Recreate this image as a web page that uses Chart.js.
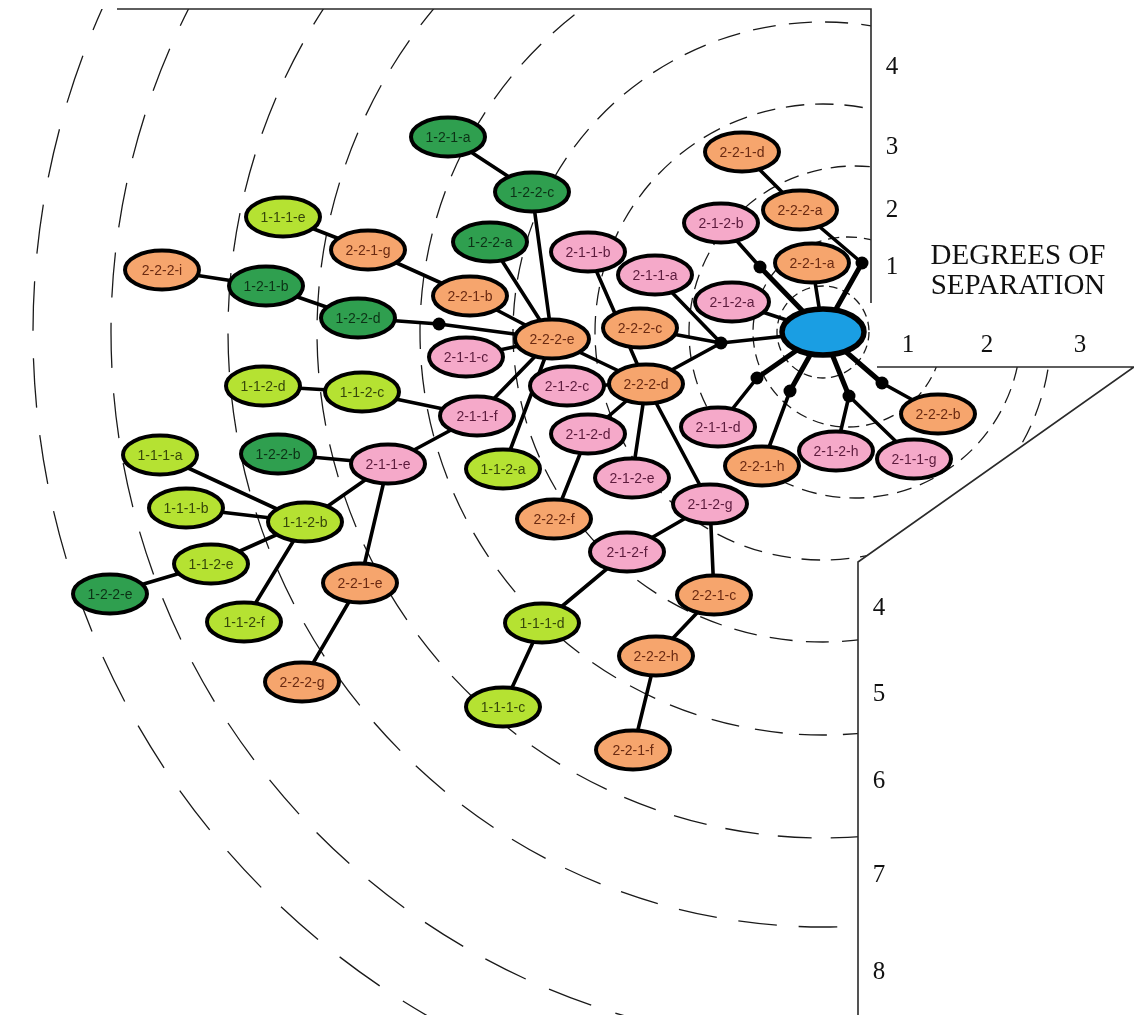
<!DOCTYPE html>
<html>
<head>
<meta charset="utf-8">
<title>Degrees of separation</title>
<script src="https://cdn.jsdelivr.net/npm/chart.js@4.4.1/dist/chart.umd.min.js"></script>
<style>
  html, body { margin: 0; padding: 0; background: #fff; }
  #wrap { width: 1134px; height: 1015px; }
</style>
</head>
<body>
<div id="wrap"><canvas id="net" width="1134" height="1015"></canvas></div>
<script>
// ##### Data #####

// people in the network (C = the centre person)
const nodeNames = [
    'C', '2-2-1-d', '2-2-2-a', '2-1-2-b', '2-2-1-a', '2-1-1-a', '2-1-2-a', '2-2-2-c',
    '2-1-1-b', '2-2-2-e', '1-2-2-c', '1-2-1-a', '1-2-2-a', '2-2-1-b', '2-2-1-g', '1-1-1-e',
    '2-2-2-i', '1-2-1-b', '1-2-2-d', '2-1-1-c', '2-2-2-d', '2-1-2-c', '1-1-2-d', '1-1-2-c',
    '2-1-1-f', '1-2-2-b', '2-1-1-e', '1-1-1-a', '1-1-1-b', '1-1-2-b', '1-1-2-e', '1-2-2-e',
    '1-1-2-f', '2-2-1-e', '2-2-2-g', '1-1-2-a', '2-1-2-d', '2-1-2-e', '2-2-2-f', '2-1-2-g',
    '2-1-2-f', '2-2-1-c', '1-1-1-d', '2-2-2-h', '1-1-1-c', '2-2-1-f', '2-1-1-d', '2-2-1-h',
    '2-1-2-h', '2-1-1-g', '2-2-2-b',
]
const nodeX = [
    823, 742, 800, 721, 812, 655, 732, 640,
    588, 552, 532, 448, 490, 470, 368, 283,
    162, 266, 358, 466, 646, 567, 263, 362,
    477, 278, 388, 160, 186, 305, 211, 110,
    244, 360, 302, 503, 588, 632, 554, 710,
    627, 714, 542, 656, 503, 633, 718, 762,
    836, 914, 938,
]
const nodeY = [
    332, 152, 210, 223, 263, 275, 302, 328,
    252, 339, 192, 137, 242, 296, 250, 217,
    270, 286, 318, 357, 384, 386, 386, 392,
    416, 454, 464, 455, 508, 522, 564, 594,
    622, 583, 682, 469, 434, 478, 519, 504,
    552, 595, 623, 656, 707, 750, 427, 466,
    451, 459, 414,
]
// c = centre, dg = dark green, lg = light green, or = orange, pk = pink
const nodeGroup = [
    'c', 'or', 'or', 'pk', 'or', 'pk', 'pk', 'or',
    'pk', 'or', 'dg', 'dg', 'dg', 'or', 'or', 'lg',
    'or', 'dg', 'dg', 'pk', 'or', 'pk', 'lg', 'lg',
    'pk', 'dg', 'pk', 'lg', 'lg', 'lg', 'lg', 'dg',
    'lg', 'or', 'or', 'lg', 'pk', 'pk', 'or', 'pk',
    'pk', 'or', 'lg', 'or', 'lg', 'or', 'pk', 'or',
    'pk', 'pk', 'or',
]

// small black joints on the links
const jointNames = ['J0', 'J1', 'J2', 'J3', 'J4', 'J5', 'J6', 'J7']
const jointX = [721, 439, 760, 862, 757, 790, 849, 882]
const jointY = [343, 324, 267, 263, 378, 391, 396, 383]

const links = [
    ['2-2-1-d', '2-2-2-a'], ['2-2-2-a', 'J3'], ['J3', 'C'],
    ['2-1-2-b', 'J2'], ['J2', 'C'],
    ['2-2-1-a', 'C'], ['2-1-2-a', 'C'],
    ['2-1-1-a', 'J0'], ['2-2-2-c', 'J0'], ['2-2-2-d', 'J0'], ['J0', 'C'],
    ['C', 'J4'], ['J4', '2-1-1-d'],
    ['C', 'J5'], ['J5', '2-2-1-h'],
    ['C', 'J6'], ['J6', '2-1-2-h'], ['J6', '2-1-1-g'],
    ['C', 'J7'], ['J7', '2-2-2-b'],
    ['2-1-1-b', '2-2-2-d'], ['2-2-2-e', '2-2-2-d'], ['2-1-2-c', '2-2-2-d'],
    ['2-2-2-d', '2-1-2-d'], ['2-2-2-d', '2-1-2-e'], ['2-2-2-d', '2-1-2-g'],
    ['1-2-1-a', '1-2-2-c'], ['1-2-2-c', '2-2-2-e'], ['1-2-2-a', '2-2-2-e'],
    ['2-2-1-b', '2-2-2-e'], ['1-1-1-e', '2-2-1-g'], ['2-2-1-g', '2-2-1-b'],
    ['2-2-2-i', '1-2-1-b'], ['1-2-1-b', '1-2-2-d'], ['1-2-2-d', 'J1'], ['J1', '2-2-2-e'],
    ['2-1-1-c', '2-2-2-e'], ['2-1-1-f', '2-2-2-e'], ['1-1-2-a', '2-2-2-e'],
    ['1-1-2-d', '1-1-2-c'], ['1-1-2-c', '2-1-1-f'], ['2-1-1-f', '2-1-1-e'],
    ['1-2-2-b', '2-1-1-e'], ['2-1-1-e', '1-1-2-b'], ['2-1-1-e', '2-2-1-e'],
    ['2-2-1-e', '2-2-2-g'], ['1-1-1-a', '1-1-2-b'], ['1-1-1-b', '1-1-2-b'],
    ['1-1-2-b', '1-1-2-e'], ['1-1-2-e', '1-2-2-e'], ['1-1-2-b', '1-1-2-f'],
    ['2-1-2-d', '2-2-2-f'], ['2-1-2-g', '2-1-2-f'], ['2-1-2-f', '1-1-1-d'],
    ['1-1-1-d', '1-1-1-c'], ['2-1-2-g', '2-2-1-c'], ['2-2-1-c', '2-2-2-h'],
    ['2-2-2-h', '2-2-1-f'],
]

// ring boundaries (distance from the centre person)
const ringRadii = [46, 95, 166, 228, 310, 403, 506, 595, 712, 790]
const ringShift = [0, 25, 32, 0, 0, 0, 0, 0, 0, 0]

// degree labels on the three axis pieces
const topTicks = ['4', '3', '2', '1']
const rightTicks = ['1', '2', '3']
const bottomTicks = ['4', '5', '6', '7', '8']
const titleLines = ['DEGREES OF', 'SEPARATION']

// ##### Helpers #####

function pointOf(name) {
    let i = nodeNames.indexOf(name)
    if (i >= 0) return { x: nodeX[i], y: nodeY[i] }
    i = jointNames.indexOf(name)
    return { x: jointX[i], y: jointY[i] }
}

const groupStyle = {
    c: { fill: '#1a9ee3', text: '#000', rx: 41, ry: 23, lw: 5.5 },
    dg: { fill: '#2f9f4f', text: '#0c3216', rx: 37, ry: 19.5, lw: 4 },
    lg: { fill: '#b5e232', text: '#36460a', rx: 37, ry: 19.5, lw: 4 },
    or: { fill: '#f6a56d', text: '#6a2a12', rx: 37, ry: 19.5, lw: 4 },
    pk: { fill: '#f5a9c9', text: '#5c1b3d', rx: 37, ry: 19.5, lw: 4 },
}

const heavy = ['C', 'J2', 'J3', 'J4', 'J5', 'J6', 'J7']

// ##### Plugins #####

const ringsAndAxes = {
    id: 'ringsAndAxes',
    beforeDatasetsDraw(chart) {
        const { ctx } = chart
        const sx = chart.scales.x
        const sy = chart.scales.y
        const px = (v) => sx.getPixelForValue(v)
        const py = (v) => sy.getPixelForValue(v)

        // dashed rings, kept out of the label panels
        ctx.save()
        ctx.beginPath()
        ctx.moveTo(px(0), py(9))
        ctx.lineTo(px(871), py(9))
        ctx.lineTo(px(871), py(367))
        ctx.lineTo(px(1134), py(367))
        ctx.lineTo(px(858), py(562))
        ctx.lineTo(px(858), py(1015))
        ctx.lineTo(px(0), py(1015))
        ctx.closePath()
        ctx.clip()
        ctx.strokeStyle = '#1a1a1a'
        ctx.lineWidth = 1.3
        ringRadii.forEach((r, i) => {
            const cx = px(nodeX[0] + ringShift[i])
            const cy = py(nodeY[0])
            const rp = Math.abs(px(r) - px(0))
            ctx.setLineDash([6 + rp * 0.055, 4 + rp * 0.03])
            ctx.lineDashOffset = i * 7
            ctx.beginPath()
            ctx.arc(cx, cy, rp, 0, Math.PI * 2)
            ctx.stroke()
        })
        ctx.restore()

        // axis frame
        ctx.save()
        ctx.strokeStyle = '#2a2a2a'
        ctx.lineWidth = 1.6
        ctx.beginPath()
        ctx.moveTo(px(117), py(9))
        ctx.lineTo(px(871), py(9))
        ctx.lineTo(px(871), py(303))
        ctx.moveTo(px(877), py(367))
        ctx.lineTo(px(1134), py(367))
        ctx.lineTo(px(858), py(562))
        ctx.lineTo(px(858), py(1015))
        ctx.stroke()

        // degree numbers
        ctx.fillStyle = '#111'
        ctx.textAlign = 'center'
        ctx.textBaseline = 'middle'
        ctx.font = '25px "Liberation Serif", "Times New Roman", serif'
        const topY = [67, 147, 210, 267]
        topTicks.forEach((t, i) => ctx.fillText(t, px(892), py(topY[i])))
        const rightX = [908, 987, 1080]
        rightTicks.forEach((t, i) => ctx.fillText(t, px(rightX[i]), py(345)))
        const bottomY = [608, 694, 781, 875, 972]
        bottomTicks.forEach((t, i) => ctx.fillText(t, px(879), py(bottomY[i])))

        ctx.font = '29px "Liberation Serif", "Times New Roman", serif'
        ctx.fillText(titleLines[0], px(1018), py(256))
        ctx.fillText(titleLines[1], px(1018), py(286))
        ctx.restore()
    },
}

const ellipseNodes = {
    id: 'ellipseNodes',
    afterDatasetsDraw(chart) {
        const { ctx } = chart
        const meta = chart.getDatasetMeta(1)
        ctx.save()
        meta.data.forEach((el, i) => {
            const st = groupStyle[nodeGroup[i]]
            ctx.beginPath()
            ctx.ellipse(el.x, el.y, st.rx, st.ry, 0, 0, Math.PI * 2)
            ctx.fillStyle = st.fill
            ctx.fill()
            ctx.lineWidth = st.lw
            ctx.strokeStyle = '#000'
            ctx.stroke()
            if (nodeNames[i] !== 'C') {
                ctx.fillStyle = st.text
                ctx.font = '14px "Liberation Sans", Arial, sans-serif'
                ctx.textAlign = 'center'
                ctx.textBaseline = 'middle'
                ctx.fillText(nodeNames[i], el.x, el.y + 1)
            }
        })
        ctx.restore()
    },
}

// ##### Chart #####

const datasets = [
    {
        label: 'joints',
        data: jointX.map((x, i) => ({ x, y: jointY[i] })),
        pointRadius: 6.5,
        pointBackgroundColor: '#000',
        pointBorderWidth: 0,
        showLine: false,
    },
    {
        label: 'people',
        data: nodeX.map((x, i) => ({ x, y: nodeY[i] })),
        pointRadius: 0,
        showLine: false,
    },
]

links.forEach(([a, b]) => {
    const isHeavy = heavy.includes(a) && heavy.includes(b)
    datasets.push({
        label: a + ' - ' + b,
        data: [pointOf(a), pointOf(b)],
        showLine: true,
        borderColor: '#000',
        borderWidth: isHeavy ? 5 : 3.6,
        pointRadius: 0,
        borderCapStyle: 'round',
    })
})

new Chart(document.getElementById('net').getContext('2d'), {
    type: 'scatter',
    data: { datasets },
    options: {
        responsive: false,
        animation: false,
        events: [],
        layout: { padding: 0, autoPadding: false },
        scales: {
            x: { type: 'linear', min: 0, max: 1134, display: false },
            y: { type: 'linear', min: 0, max: 1015, reverse: true, display: false },
        },
        plugins: {
            legend: { display: false },
            tooltip: { enabled: false },
        },
    },
    plugins: [ringsAndAxes, ellipseNodes],
})
</script>
</body>
</html>
